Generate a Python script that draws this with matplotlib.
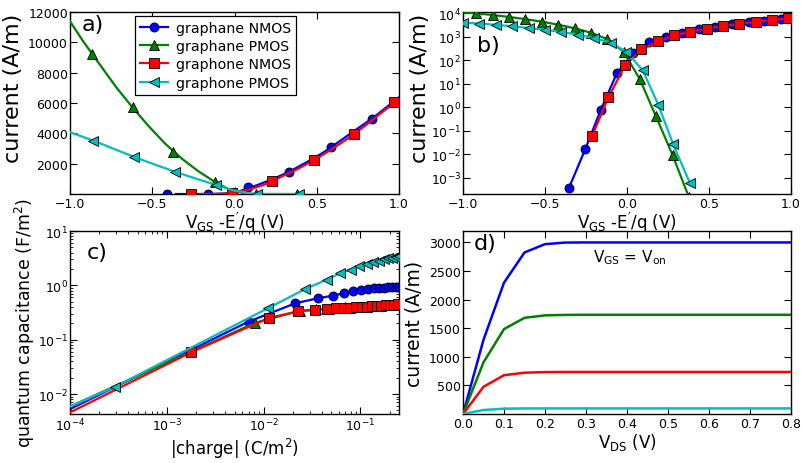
import numpy as np
import matplotlib
matplotlib.use('Agg')
import matplotlib.pyplot as plt
from matplotlib.ticker import NullLocator, LogLocator, FixedLocator

plt.rcParams.update({
    'font.family': ['DejaVu Sans'],
    'xtick.direction': 'in', 'ytick.direction': 'in',
    'xtick.top': True, 'ytick.right': True,
    'xtick.major.size': 5, 'ytick.major.size': 5,
    'xtick.minor.size': 2.5, 'ytick.minor.size': 2.5,
    'xtick.labelsize': 9, 'ytick.labelsize': 9,
    'xtick.major.pad': 2.0, 'ytick.major.pad': 1.5,
    'xtick.minor.pad': 2.0, 'ytick.minor.pad': 1.5,
    'axes.linewidth': 1.0,
    'mathtext.default': 'regular',
})

labels = ['graphane NMOS', 'graphane PMOS', 'graphone NMOS', 'graphone PMOS']
colors = ['#0000ff', '#008000', '#ff0000', '#00bfbf']
markers = ['o', '^', 's', '<']

# ---- panel a / b : current vs V_GS - E'/q (line data, markers used in panel b)
vgs_graphane_n = [-0.355, -0.255, -0.16, -0.062, 0.038, 0.136, 0.238, 0.335, 0.437,
                  0.539, 0.64, 0.742, 0.837, 0.939, 1.0]
cur_graphane_n = [3.5e-4, 0.016, 0.77, 28, 210, 580, 1010, 1480, 2090,
                  2730, 3490, 4270, 4980, 5850, 6380]
vgs_graphane_p = [-1.0, -0.919, -0.82, -0.72, -0.62, -0.52, -0.42, -0.32, -0.22,
                  -0.12, -0.02, 0.078, 0.176, 0.278, 0.377]
cur_graphane_p = [11380, 10050, 8550, 7050, 5706, 4450, 3300, 2330, 1500,
                  800, 230, 15.7, 0.42, 0.0091, 1.5e-4]
vgs_graphone_n = [-0.213, -0.113, -0.012, 0.088, 0.19, 0.286, 0.383, 0.485, 0.583,
                  0.685, 0.785, 0.886, 0.984, 1.0]
cur_graphone_n = [0.0596, 2.65, 61, 290, 650, 1150, 1650, 2240, 2900,
                  3630, 4430, 5300, 6120, 6250]
vgs_graphone_p = [-1.0, -0.9, -0.8, -0.7, -0.6, -0.5, -0.4, -0.3, -0.2,
                  -0.1, -0.005, 0.096, 0.191, 0.282, 0.384]
cur_graphone_p = [4070, 3685, 3270, 2830, 2400, 2005, 1615, 1245, 895,
                  560, 235, 37.6, 1.25, 0.026, 5.7e-4]

# ---- panel a marker positions
a_vgs_graphane_n = [-0.412, -0.163, 0.084, 0.333, 0.585, 0.834]
a_cur_graphane_n = [0, 0, 430, 1477, 3090, 4960]
a_vgs_graphane_p = [-0.868, -0.619, -0.372, -0.118, 0.132, 0.382]
a_cur_graphane_p = [9255, 5706, 2784, 800, 0, 0]
a_vgs_graphone_n = [-0.266, -0.015, 0.23, 0.483, 0.728, 0.971]
a_cur_graphone_n = [0, 60, 867, 2240, 3960, 6050]
a_vgs_graphone_p = [-0.858, -0.61, -0.36, -0.112, 0.135, 0.394]
a_cur_graphone_p = [3523, 2438, 1457, 582, 0, 0]

# ---- panel c : quantum capacitance vs |charge|
q_graphane_n = [1e-4, 6.98e-3, 0.0212, 0.036, 0.0516, 0.067, 0.0838, 0.101, 0.119,
                0.137, 0.156, 0.174, 0.193, 0.212, 0.233, 0.25]
c_graphane_n = [5.3e-3, 0.215, 0.468, 0.578, 0.645, 0.716, 0.778, 0.82, 0.86,
                0.885, 0.895, 0.908, 0.92, 0.93, 0.93, 0.935]
q_graphane_p = [1e-4, 8.05e-3, 0.0235, 0.035, 0.047, 0.058, 0.069, 0.081, 0.093,
                0.106, 0.119, 0.134, 0.151, 0.166, 0.184, 0.202, 0.222, 0.245]
c_graphane_p = [5.9e-3, 0.203, 0.34, 0.36, 0.375, 0.386, 0.392, 0.397, 0.403,
                0.408, 0.413, 0.42, 0.426, 0.431, 0.438, 0.444, 0.45, 0.457]
q_graphone_n = [1e-4, 1.78e-3, 0.01125, 0.0227, 0.0336, 0.045, 0.0564, 0.067, 0.0787,
                0.0908, 0.104, 0.117, 0.132, 0.149, 0.164, 0.182, 0.2, 0.22, 0.245]
c_graphone_n = [4.6e-3, 0.0586, 0.251, 0.333, 0.352, 0.367, 0.378, 0.384, 0.389,
                0.395, 0.40, 0.405, 0.412, 0.418, 0.423, 0.43, 0.436, 0.442, 0.448]
q_graphone_p = [1e-4, 2.9e-4, 0.011, 0.027, 0.045, 0.062, 0.079, 0.097, 0.116,
                0.135, 0.154, 0.174, 0.193, 0.213, 0.233, 0.25]
c_graphone_p = [5.9e-3, 0.0136, 0.378, 0.86, 1.28, 1.68, 1.95, 2.25, 2.5,
                2.7, 2.85, 3.0, 3.15, 3.25, 3.35, 3.42]

# ---- panel d : output characteristics at V_GS = V_on
vds = [0.0, 0.05, 0.1, 0.15, 0.2, 0.25, 0.3, 0.4, 0.5, 0.6, 0.7, 0.8]
ids_graphane_n = [0, 1300, 2297, 2825, 2970, 2998, 3000, 3000, 3000, 3000, 3000, 3000]
ids_graphane_p = [0, 905, 1485, 1682, 1725, 1733, 1735, 1735, 1735, 1735, 1735, 1735]
ids_graphone_n = [0, 476, 679, 722, 733, 735, 735, 735, 735, 735, 735, 735]
ids_graphone_p = [0, 70, 93, 97, 98, 98, 98, 98, 98, 98, 98, 98]

fig = plt.figure(figsize=(8.04, 4.64), dpi=100)
axa = fig.add_axes([0.0871, 0.5797, 0.4092, 0.3923])
axb = fig.add_axes([0.5759, 0.5797, 0.4079, 0.3923])
axc = fig.add_axes([0.0871, 0.1056, 0.4092, 0.3944])
axd = fig.add_axes([0.5759, 0.1056, 0.4079, 0.3944])

vgs_all = [vgs_graphane_n, vgs_graphane_p, vgs_graphone_n, vgs_graphone_p]
cur_all = [cur_graphane_n, cur_graphane_p, cur_graphone_n, cur_graphone_p]
a_vgs_all = [a_vgs_graphane_n, a_vgs_graphane_p, a_vgs_graphone_n, a_vgs_graphone_p]
a_cur_all = [a_cur_graphane_n, a_cur_graphane_p, a_cur_graphone_n, a_cur_graphone_p]
# which points carry a marker in panel b
mk_b = [list(range(0, 14)), list(range(1, 15)), list(range(0, 13)), list(range(0, 15))]

ms = 6.5
mew = 0.6
lw = 1.6
xlab_fs = 12
vgs_label = r"V$_{GS}$ -E$^{\prime}$/q (V)"

# panel a
handles = []
for k in range(4):
    axa.plot(vgs_all[k], cur_all[k], '-', color=colors[k], lw=lw, zorder=2 + k)
    axa.plot(a_vgs_all[k], a_cur_all[k], linestyle='none', marker=markers[k], ms=ms,
             mfc=colors[k], mec='black', mew=mew, zorder=2 + k)
    h, = axa.plot([], [], '-', color=colors[k], lw=lw, marker=markers[k], ms=ms,
                  mfc=colors[k], mec='black', mew=mew)
    handles.append(h)
axa.set_xlim(-1.0, 1.0)
axa.set_ylim(0, 12000)
axa.set_xticks([-1.0, -0.5, 0.0, 0.5, 1.0])
axa.set_yticks([2000, 4000, 6000, 8000, 10000, 12000])
axa.set_xlabel(vgs_label, fontsize=xlab_fs)
axa.xaxis.set_label_coords(0.5, -0.085)
axa.set_ylabel('current (A/m)', fontsize=16)
axa.yaxis.set_label_coords(-0.142, 0.588)
axa.text(0.036, 0.935, 'a)', transform=axa.transAxes, fontsize=16, va='center', ha='left')
leg = axa.legend(handles, labels, loc='upper left', bbox_to_anchor=(0.198, 0.978),
                 borderaxespad=0, fontsize=10.2, numpoints=1, fancybox=False,
                 framealpha=1, edgecolor='black', handlelength=2.0, labelspacing=0.3,
                 handletextpad=0.5, borderpad=0.35)
leg.get_frame().set_linewidth(0.9)

# panel b
for k in range(4):
    axb.plot(vgs_all[k], cur_all[k], '-', color=colors[k], lw=lw, marker=markers[k],
             markevery=mk_b[k], ms=ms, mfc=colors[k], mec='black', mew=mew, zorder=2 + k)
axb.set_yscale('log')
axb.set_xlim(-1.0, 1.0)
axb.set_ylim(2e-4, 1.15e4)
axb.set_xticks([-1.0, -0.5, 0.0, 0.5, 1.0])
axb.yaxis.set_major_locator(FixedLocator([1e-3, 1e-2, 1e-1, 1, 10, 100, 1e3, 1e4]))
axb.yaxis.set_minor_locator(NullLocator())
axb.set_xlabel(vgs_label, fontsize=xlab_fs)
axb.xaxis.set_label_coords(0.5, -0.085)
axb.set_ylabel('current (A/m)', fontsize=16)
axb.yaxis.set_label_coords(-0.101, 0.588)
axb.text(0.043, 0.82, 'b)', transform=axb.transAxes, fontsize=16, va='center', ha='left')

# panel c
q_all = [q_graphane_n, q_graphane_p, q_graphone_n, q_graphone_p]
c_all = [c_graphane_n, c_graphane_p, c_graphone_n, c_graphone_p]
for k in range(4):
    n = len(q_all[k])
    axc.plot(q_all[k], c_all[k], '-', color=colors[k], lw=lw, marker=markers[k],
             markevery=list(range(1, n)), ms=ms, mfc=colors[k], mec='black', mew=mew,
             zorder=2 + k)
axc.set_xscale('log')
axc.set_yscale('log')
axc.set_xlim(1e-4, 0.25)
axc.set_ylim(4.3e-3, 10)
axc.xaxis.set_major_locator(FixedLocator([1e-4, 1e-3, 1e-2, 1e-1]))
axc.yaxis.set_major_locator(FixedLocator([1e-2, 1e-1, 1, 10]))
axc.xaxis.set_minor_locator(LogLocator(base=10, subs=np.arange(2, 10)))
axc.yaxis.set_minor_locator(LogLocator(base=10, subs=np.arange(2, 10)))
axc.set_xlabel(r'|charge| (C/m$^2$)', fontsize=xlab_fs)
axc.xaxis.set_label_coords(0.5, -0.118)
axc.set_ylabel(r'quantum capacitance (F/m$^2$)', fontsize=12.5)
axc.yaxis.set_label_coords(-0.101, 0.5)
axc.text(0.052, 0.883, 'c)', transform=axc.transAxes, fontsize=16, va='center', ha='left')

# panel d
ids_all = [ids_graphane_n, ids_graphane_p, ids_graphone_n, ids_graphone_p]
for k in range(4):
    axd.plot(vds, ids_all[k], '-', color=colors[k], lw=1.8, zorder=2 + k)
axd.set_xlim(0, 0.8)
axd.set_ylim(0, 3200)
axd.set_xticks([0.0, 0.1, 0.2, 0.3, 0.4, 0.5, 0.6, 0.7, 0.8])
axd.set_yticks([500, 1000, 1500, 2000, 2500, 3000])
axd.set_xlabel(r'V$_{DS}$ (V)', fontsize=xlab_fs)
axd.xaxis.set_label_coords(0.5, -0.093)
axd.set_ylabel('current (A/m)', fontsize=13.5)
axd.yaxis.set_label_coords(-0.121, 0.5)
axd.text(0.034, 0.937, 'd)', transform=axd.transAxes, fontsize=16, va='center', ha='left')
axd.text(0.317, 2745, r'V$_{GS}$ = V$_{on}$', fontsize=11, va='center', ha='left')

fig.savefig('out.png', dpi=100)
